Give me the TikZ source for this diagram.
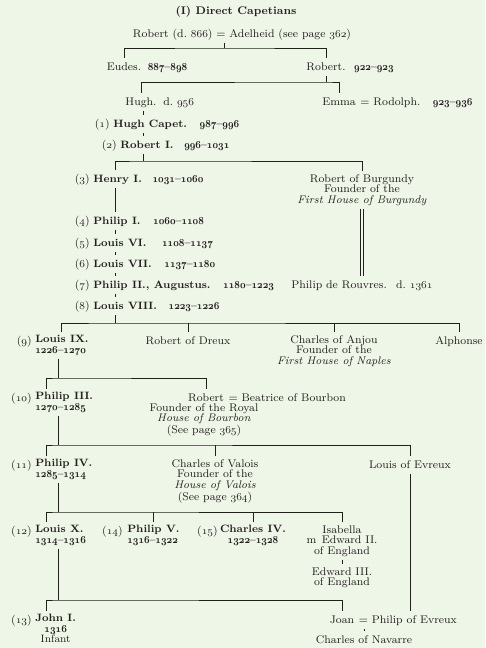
\documentclass[tikz,border=0pt]{standalone}
\usepackage{graphicx}
\usepackage{tikz}
\usetikzlibrary{positioning}

\definecolor{paper}{RGB}{238,246,232}
\definecolor{ink}{RGB}{36,31,31}
\newcommand{\treefont}{\fontsize{8.3}{7.9}\selectfont}
\newcommand{\kingfont}{\fontsize{8}{7.9}\selectfont\bfseries}
\newcommand{\osn}[1]{{\usefont{OML}{cmm}{m}{it}#1}}
\newcommand{\osb}[1]{{\usefont{OML}{cmm}{b}{it}#1}}
\newcommand{\reign}[2]{\scalebox{0.86}[1]{\osb{#1}\textbf{--}\osb{#2}}}
\newcommand{\kno}[1]{(\osn{#1})}

\tikzset{
  every node/.style={text=ink, inner sep=2.3pt, font=\treefont},
  nm/.style={anchor=north, text height=1.6ex, text depth=.35ex},
  kg/.style={nm, anchor=north west, font=\kingfont},
  kgs/.style={anchor=north west, align=left, font=\kingfont},
  blk/.style={anchor=north, align=center},
  yrs/.style={nm, anchor=north west},
  kn/.style={nm, anchor=north east},
  ln/.style={draw=ink, line width=0.6pt},
}

\begin{document}
\begin{tikzpicture}[x=0.75pt, y=-0.75pt]
    \fill[paper] (0,0) rectangle (485,648);
    \useasboundingbox (0,0) rectangle (485,648);

    % heads of the line
    \node[nm, font=\treefont\bfseries] (title) at (236,2) {(I) Direct Capetians};
    \node[nm] (rob866) at (242,25) {Robert (d.~\osn{866}) = Adelheid (see page \osn{362})};
    \node[nm] (eudes) at (124,58) {Eudes.};
    \node[nm] (rob922) at (326,58) {Robert.};
    \node[nm] (hugh) at (141,93) {Hugh.};
    \node[nm, anchor=north west] (hughd) at (160,93) {d.~\osn{956}};
    \node[nm] (emma) at (339,93) {Emma};
    \node[nm, anchor=north west] (rodolph) at ([xshift=-1.5pt]emma.north east) {= Rodolph.};

    % kings
    \node[kg] (hcapet) at (110,115) {Hugh Capet.};
    \node[kg] (robert1) at (117,136) {Robert I.};
    \node[kg] (henry1) at (90,170) {Henry I.};
    \node[kg] (philip1) at (90,212) {Philip I.};
    \node[kg] (louis6) at (90,234) {Louis VI.};
    \node[kg] (louis7) at (90,255) {Louis VII.};
    \node[kg] (philip2) at (90,276) {Philip II., Augustus.};
    \node[kg] (louis8) at (90,297) {Louis VIII.};
    \node[kgs] (louis9) at (32,332) {Louis IX.\\\reign{1226}{1270}};
    \node[kgs] (philip3) at (32,389) {Philip III.\\\reign{1270}{1285}};
    \node[kgs] (philip4) at (32,456) {Philip IV.\\\reign{1285}{1314}};
    \node[kgs] (louis10) at (32,522) {Louis X.\\\reign{1314}{1316}};
    \node[kgs] (philip5) at (124,522) {Philip V.\\\reign{1316}{1322}};
    \node[kgs, anchor=north, align=center] (charles4) at (253,522) {Charles IV.\\\reign{1322}{1328}};
    \node[kgs, align=center] (john1) at (32,611) {John I.\\\scalebox{0.86}[1]{\osb{1316}}\\\textmd{Infant}};

    \foreach \k/\x/\y in {1/110/122, 2/117/143, 3/90/177, 4/90/219, 5/90/241, 6/90/262,
                          7/90/283, 8/90/304, 9/32/339, 10/32/396, 11/32/463, 12/32/529,
                          13/32/618, 14/123/529, 15/218/529}
        \node[kn] (k\k) at ({\x+3},{\y-7}) {\kno{\k}};

    \foreach \n/\gap/\a/\b in {eudes/0/887/898, rob922/1.5/922/923, rodolph/4.5/923/936,
                               hcapet/4.5/987/996, robert1/3/996/1031, henry1/3/1031/1060,
                               philip1/4.5/1060/1108, louis6/6.75/1108/1137, louis7/4.5/1137/1180,
                               philip2/4.5/1180/1223, louis8/3.75/1223/1226}
        \node[yrs, right=\gap pt of \n] (y\n) {\reign{\a}{\b}};

    % collateral lines
    \node[blk] (robburg) at (362,171) {Robert of Burgundy\\Founder of the\\\textit{First House of Burgundy}};
    \node[nm] (rouvres) at (362,276) {Philip de Rouvres.\hspace{7pt}d.~\osn{1361}};
    \node[nm] (dreux) at (188,332) {Robert of Dreux};
    \node[blk] (anjou) at (334,332) {Charles of Anjou\\Founder of the\\\textit{First House of Naples}};
    \node[nm] (alphonse) at (459,332) {Alphonse};
    \node[nm] (robertb) at (206,389) {Robert};
    \node[nm, anchor=north west] (beatrice) at ([xshift=-1.5pt]robertb.north east) {= Beatrice of Bourbon};
    \node[blk] (bourbon) at (204,400) {Founder of the Royal\\\textit{House of Bourbon}\\(See page \osn{365})};
    \node[blk] (valois) at (215,456) {Charles of Valois\\Founder of the\\\textit{House of Valois}\\(See page \osn{364})};
    \node[nm] (louisev) at (410,456) {Louis of Evreux};
    \node[blk] (isabella) at (342,522) {Isabella\\m\enskip Edward II.\\of England};
    \node[blk] (edward3) at (342,564) {Edward III.\\of England};
    \node[nm] (joan) at (342,611) {Joan};
    \node[nm, anchor=north west] (philev) at ([xshift=-1.5pt]joan.north east) {= Philip of Evreux};
    \node[nm] (navarre) at (364,631) {Charles of Navarre};

    % family bars
    \coordinate (b1) at (224,48);
    \coordinate (b2) at (326,82);
    \coordinate (b3) at (143,161);
    \coordinate (b9) at (115,323);
    \coordinate (b10) at (58,378);
    \coordinate (b11) at (58,445);
    \coordinate (b12) at (58,512);
    \coordinate (b13) at (58,600);
    \coordinate (s1) at (143,0);
    \coordinate (s2) at (115,0);

    \draw[ln] (b1 |- rob866.south) -- (b1);
    \draw[ln] (eudes.north) |- (b1) -| (rob922.north);
    \draw[ln] (rob922.south -| b2) -- (b2);
    \draw[ln] (hugh.north) |- (b2) -| (emma.north);
    \draw[ln] (hugh.south -| s1) -- (hcapet.north -| s1);
    \draw[ln] (hcapet.south -| s1) -- (robert1.north -| s1);
    \draw[ln] (robert1.south -| b3) -- (b3);
    \draw[ln] (henry1.north -| s2) |- (b3) -| (robburg.north);
    \foreach \a/\b in {henry1/philip1, philip1/louis6, louis6/louis7, louis7/philip2, philip2/louis8}
        \draw[ln] (\a.south -| s2) -- (\b.north -| s2);
    \draw[ln, double=paper, double distance=1.6pt] (robburg.south) -- (robburg.south |- rouvres.north);

    \draw[ln] (louis8.south -| b9) -- (b9);
    \draw[ln] (louis9.north) |- (b9) -| (alphonse.north);
    \foreach \c in {dreux, anjou}
        \draw[ln] (\c.north) -- (\c.north |- b9);

    \draw[ln] (louis9.south -| b10) -- (b10);
    \draw[ln] ([xshift=11pt]philip3.north west) |- (b10) -| (robertb.north);

    \draw[ln] (philip3.south -| b11) -- (b11);
    \draw[ln] ([xshift=11pt]philip4.north west) |- (b11) -| (louisev.north);
    \draw[ln] (valois.north) -- (valois.north |- b11);

    \draw[ln] (philip4.south -| b12) -- (b12);
    \draw[ln] ([xshift=11pt]louis10.north west) |- (b12) -| (isabella.north);
    \foreach \c in {philip5, charles4}
        \draw[ln] (\c.north) -- (\c.north |- b12);
    \draw[ln] (isabella.south) -- (edward3.north);

    \draw[ln] (louis10.south -| b13) -- (b13);
    \draw[ln] ([xshift=11pt]john1.north west) |- (b13) -| (joan.north);
    \draw[ln] (louisev.south) -- (louisev.south |- philev.north);
    \draw[ln] (navarre.north) -- (navarre.north |- joan.south);
\end{tikzpicture}
\end{document}
